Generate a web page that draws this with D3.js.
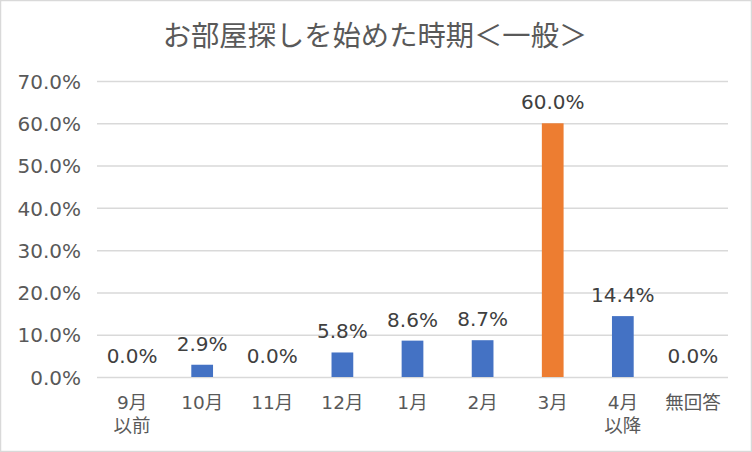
<!DOCTYPE html>
<html><head><meta charset="utf-8">
<script src="https://cdn.jsdelivr.net/npm/d3@7/dist/d3.min.js"></script>
<style>body{margin:0;background:#fff}svg{display:block}text{font-family:"DejaVu Sans","Noto Sans CJK JP",sans-serif}.cjk{font-family:"Noto Sans CJK JP",sans-serif}</style>
</head><body><svg id="c" width="752" height="452"></svg>
<script>
const title = "お部屋探しを始めた時期＜一般＞";
const categories = [["9月","以前"],["10月"],["11月"],["12月"],["1月"],["2月"],["3月"],["4月","以降"],["無回答"]];
const values = [0.0, 2.9, 0.0, 5.8, 8.6, 8.7, 60.0, 14.4, 0.0];
const highlight = [false,false,false,false,false,false,true,false,false];
const yTicks = [0,10,20,30,40,50,60,70];

const svg = d3.select("#c");
svg.append("rect").attr("x",0.5).attr("y",0.5).attr("width",751).attr("height",451)
  .attr("fill","#fff").attr("stroke","#d9d9d9").attr("stroke-width",1.5);

const pL=97,pR=728,pT=81,pB=377;
const x = d3.scaleBand().domain(d3.range(categories.length)).range([pL,pR]).paddingInner(0.69).paddingOuter(0.345);
const y = d3.scaleLinear().domain([0,70]).range([pB,pT]);

svg.append("text").attr("class","cjk").attr("x",375).attr("y",46).attr("text-anchor","middle")
  .attr("font-size",28.3).attr("fill","#595959").text(title);

const ga = svg.append("g").attr("transform",`translate(${pL},0)`)
  .call(d3.axisLeft(y).tickValues(yTicks).tickSize(-(pR-pL)).tickPadding(16).tickFormat(d=>d.toFixed(1)+"%"));
ga.select(".domain").remove();
ga.selectAll(".tick line").attr("stroke","#d9d9d9").attr("stroke-width",1.5);
ga.selectAll(".tick text").attr("fill","#595959").attr("font-size",20).attr("dy","0.36em");

svg.append("g").selectAll("rect").data(values).join("rect")
  .attr("x",(d,i)=>x(i)).attr("width",x.bandwidth())
  .attr("y",d=>y(d)).attr("height",d=>y(0)-y(d))
  .attr("fill",(d,i)=>highlight[i]?"#ed7d31":"#4472c4");

svg.append("g").selectAll("text").data(values).join("text")
  .attr("x",(d,i)=>x(i)+x.bandwidth()/2).attr("y",d=>y(d)-14)
  .attr("text-anchor","middle").attr("font-size",20).attr("fill","#404040")
  .text(d=>d.toFixed(1)+"%");

const gx = svg.append("g");
categories.forEach((lines,i)=>{
  lines.forEach((l,j)=>gx.append("text").attr("x",x(i)+x.bandwidth()/2).attr("y",409+j*23)
    .attr("text-anchor","middle").attr("font-size",18.5).attr("fill","#595959").text(l));
});
</script></body></html>
